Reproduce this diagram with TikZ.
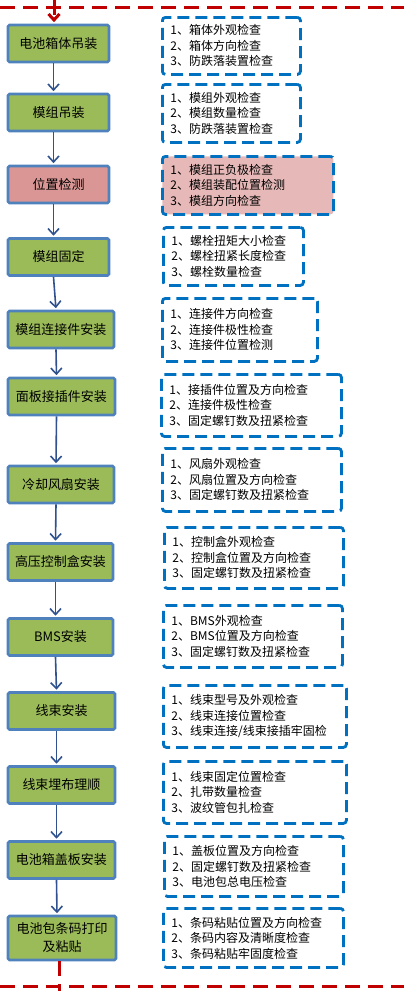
\documentclass[tikz,border=0pt]{standalone}
\usepackage{fontspec}
\usepackage{tikz}
\usetikzlibrary{arrows.meta, positioning}
\newfontfamily\cjk{Noto Sans CJK SC}
\definecolor{stagefill}{RGB}{155,187,89}
\definecolor{stageedge}{RGB}{79,129,189}
\definecolor{warnfill}{RGB}{217,150,148}
\definecolor{warnlight}{RGB}{230,185,184}
\definecolor{checkedge}{RGB}{0,112,192}
\definecolor{flowline}{RGB}{47,82,143}
\definecolor{limitred}{RGB}{192,0,0}
\tikzset{
  stage/.style={
    draw=stageedge, line width=2.8pt, fill=stagefill, rounded corners=1.5pt,
    minimum height=37pt, inner sep=0pt, align=center,
    font=\cjk\fontsize{13}{18}\selectfont
  },
  stage red/.style={stage, fill=warnfill},
  checklist/.style={
    draw=checkedge, line width=2.8pt, dash pattern=on 12pt off 6pt,
    rounded corners=3pt, anchor=north west, inner xsep=8pt, inner ysep=0pt,
    align=left, font=\cjk\fontsize{12}{15.5}\selectfont
  },
  checklist red/.style={checklist, fill=warnlight},
  flow/.style={draw=flowline, line width=1.6pt, shorten >=1.4pt,
    -{Straight Barb[length=6pt,width=11pt]}},
  boundary/.style={draw=limitred, line width=3pt, dash pattern=on 15pt off 8pt},
}

\begin{document}
\begin{tikzpicture}[x=1pt, y=-1pt]
  \useasboundingbox (0,0) rectangle (404,991);

  % assembly stages
  \node[stage, minimum width=101pt] (casehoist) at (58.5,43.5) {电池箱体吊装};
  \node[stage, minimum width=101pt] (modhoist) at (58.5,112.5) {模组吊装};
  \node[stage red, minimum width=101pt] (poscheck) at (58.5,184.5) {位置检测};
  \node[stage, minimum width=101pt] (modfix) at (58.5,257) {模组固定};
  \node[stage, minimum width=106pt] (modlink) at (61,329.5) {模组连接件安装};
  \node[stage, minimum width=107pt] (panelplug) at (61.5,396.5) {面板接插件安装};
  \node[stage, minimum width=106pt] (fanmount) at (61,484.5) {冷却风扇安装};
  \node[stage, minimum width=105pt] (hvbox) at (60.5,562) {高压控制盒安装};
  \node[stage, minimum width=105pt] (bmsmount) at (60.5,637) {BMS安装};
  \node[stage, minimum width=107pt] (harness) at (61.5,711) {线束安装};
  \node[stage, minimum width=107pt] (routing) at (61.5,785) {线束埋布理顺};
  \node[stage, minimum width=107pt] (coverplate) at (61.5,860) {电池箱盖板安装};
  \node[stage, minimum width=108pt, minimum height=44pt] (barcode) at (62,938) {电池包条码打印\\及粘贴};

  % inspection items
  \node[checklist, minimum width=138pt, text width=122pt, minimum height=57pt] (casehoist-chk) at (161,16)
    {1、箱体外观检查\\2、箱体方向检查\\3、防跌落装置检查};
  \node[checklist, minimum width=138pt, text width=122pt, minimum height=58pt] (modhoist-chk) at (161,83)
    {1、模组外观检查\\2、模组数量检查\\3、防跌落装置检查};
  \node[checklist red, minimum width=171pt, text width=155pt, minimum height=58pt] (poscheck-chk) at (161,155)
    {1、模组正负极检查\\2、模组装配位置检测\\3、模组方向检查};
  \node[checklist, minimum width=140pt, text width=124pt, minimum height=58pt] (modfix-chk) at (162,226)
    {1、螺栓扭矩大小检查\\2、螺栓扭紧长度检查\\3、螺栓数量检查};
  \node[checklist, minimum width=155pt, text width=139pt, minimum height=63pt] (modlink-chk) at (161,297)
    {1、连接件方向检查\\2、连接件极性检查\\3、连接件位置检测};
  \node[checklist, minimum width=180pt, text width=164pt, minimum height=62pt] (panelplug-chk) at (160,373)
    {1、接插件位置及方向检查\\2、连接件极性检查\\3、固定螺钉数及扭紧检查};
  \node[checklist, minimum width=179pt, text width=163pt, minimum height=63pt] (fanmount-chk) at (161,447)
    {1、风扇外观检查\\2、风扇位置及方向检查\\3、固定螺钉数及扭紧检查};
  \node[checklist, minimum width=179pt, text width=163pt, minimum height=61pt] (hvbox-chk) at (163,526)
    {1、控制盒外观检查\\2、控制盒位置及方向检查\\3、固定螺钉数及扭紧检查};
  \node[checklist, minimum width=179pt, text width=163pt, minimum height=62pt] (bmsmount-chk) at (162,604)
    {1、BMS外观检查\\2、BMS位置及方向检查\\3、固定螺钉数及扭紧检查};
  \node[checklist, minimum width=183pt, text width=167pt, minimum height=62pt] (harness-chk) at (162,684)
    {1、线束型号及外观检查\\2、线束连接位置检查\\3、线束连接/线束接插牢固检};
  \node[checklist, minimum width=183pt, text width=167pt, minimum height=62pt] (routing-chk) at (162,760)
    {1、线束固定位置检查\\2、扎带数量检查\\3、波纹管包扎检查};
  \node[checklist, minimum width=179pt, text width=163pt, minimum height=60pt] (coverplate-chk) at (163,835)
    {1、盖板位置及方向检查\\2、固定螺钉数及扭紧检查\\3、电池包总电压检查};
  \node[checklist, minimum width=180pt, text width=164pt, minimum height=59pt] (barcode-chk) at (162,907)
    {1、条码粘贴位置及方向检查\\2、条码内容及清晰度检查\\3、条码粘贴牢固度检查};

  % flow between stages
  \draw[flow] ([xshift=-5pt]casehoist.south) -- ([xshift=-5pt]modhoist.north);
  \draw[flow] ([xshift=-5pt]modhoist.south) -- ([xshift=-5pt]poscheck.north);
  \draw[flow] ([xshift=-5pt]poscheck.south) -- ([xshift=-5pt]modfix.north);
  \draw[flow] ([xshift=-5pt]modfix.south) -- ([xshift=-5pt]modlink.north);
  \draw[flow] ([xshift=-5pt]modlink.south) -- ([xshift=-5pt]panelplug.north);
  \draw[flow] ([xshift=-5pt]panelplug.south) -- ([xshift=-5pt]fanmount.north);
  \draw[flow] ([xshift=-5pt]fanmount.south) -- ([xshift=-5pt]hvbox.north);
  \draw[flow] ([xshift=-5pt]hvbox.south) -- ([xshift=-5pt]bmsmount.north);
  \draw[flow] ([xshift=-5pt]bmsmount.south) -- ([xshift=-5pt]harness.north);
  \draw[flow] ([xshift=-5pt]harness.south) -- ([xshift=-5pt]routing.north);
  \draw[flow] ([xshift=-5pt]routing.south) -- ([xshift=-5pt]coverplate.north);
  \draw[flow] ([xshift=-5pt]coverplate.south) -- ([xshift=-5pt]barcode.north);

  % section limits
  \coordinate (top west) at (0,7);
  \coordinate (top east) at (404,7);
  \coordinate (bottom west) at (0,986);
  \coordinate (bottom east) at (404,986);
  \coordinate (feedin) at (54,0);
  \coordinate (feedout) at (59,991);
  \draw[boundary] (top west) -- (top east);
  \draw[boundary] (bottom west) -- (bottom east);
  \draw[boundary, shorten >=1.4pt, -{Straight Barb[length=6pt,width=11pt]}] (feedin) -- (feedin |- casehoist.north);
  \draw[boundary] (barcode.south -| feedout) -- (feedout);
\end{tikzpicture}
\end{document}
